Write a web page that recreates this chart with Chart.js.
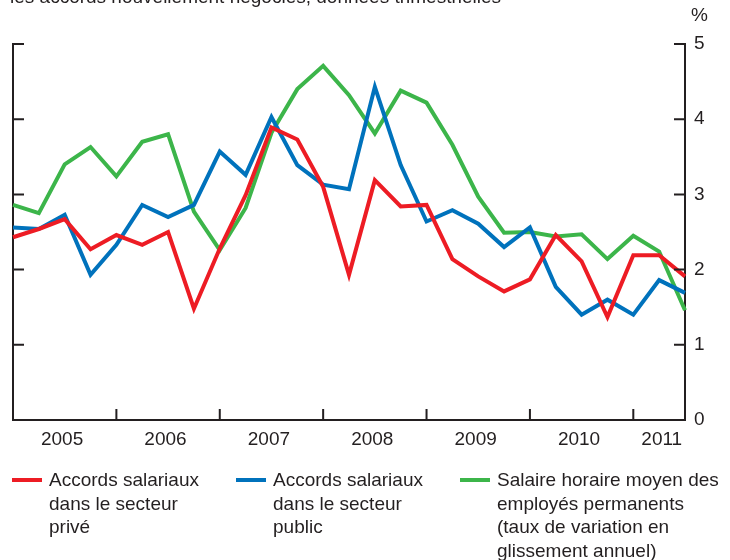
<!DOCTYPE html>
<html lang="fr">
<head>
<meta charset="utf-8">
<script src="https://cdn.jsdelivr.net/npm/chart.js@4/dist/chart.umd.min.js"></script>
<style>
  html, body { margin: 0; padding: 0; background: #fff; }
  body { width: 730px; height: 560px; position: relative; overflow: hidden;
         font-family: "Liberation Sans", Arial, sans-serif; color: #231f20; }
  #chart { position: absolute; left: 0; top: 0; }
  .note { position: absolute; font-size: 19px; line-height: 22px; white-space: nowrap; }
  .legend-item { position: absolute; top: 468px; font-size: 19px; line-height: 23.5px; }
  .legend-item .swatch { position: absolute; top: 10px; height: 4px; width: 30px; }
</style>
</head>
<body>
<canvas id="chart" width="730" height="560"></canvas>
<div class="note" style="left:10px; top:-14px;">les accords nouvellement négociés, données trimestrielles</div>
<div class="note" style="left:691px; top:4px;">%</div>
<div id="legend"></div>

<script>
// ================================
//   DONNEES (trimestrielles 2005T1 - 2011T3)
// ================================
const quarters = [
  "2005T1","2005T2","2005T3","2005T4",
  "2006T1","2006T2","2006T3","2006T4",
  "2007T1","2007T2","2007T3","2007T4",
  "2008T1","2008T2","2008T3","2008T4",
  "2009T1","2009T2","2009T3","2009T4",
  "2010T1","2010T2","2010T3","2010T4",
  "2011T1","2011T2","2011T3"
];

const accordsPrive = [
  2.43, 2.54, 2.67, 2.27, 2.46, 2.33, 2.50, 1.48,
  2.28, 2.99, 3.89, 3.73, 3.10, 1.93, 3.19, 2.84,
  2.86, 2.14, 1.91, 1.71, 1.87, 2.46, 2.11, 1.37,
  2.19, 2.19, 1.91
];

const accordsPublic = [
  2.56, 2.54, 2.73, 1.93, 2.33, 2.86, 2.70, 2.86,
  3.57, 3.26, 4.03, 3.39, 3.13, 3.07, 4.43, 3.39,
  2.64, 2.79, 2.61, 2.30, 2.56, 1.77, 1.40, 1.60,
  1.40, 1.86, 1.69
];

const salaireHoraire = [
  2.86, 2.75, 3.40, 3.63, 3.24, 3.70, 3.80, 2.77,
  2.26, 2.82, 3.82, 4.40, 4.71, 4.32, 3.81, 4.38,
  4.22, 3.66, 2.97, 2.49, 2.50, 2.44, 2.47, 2.14,
  2.45, 2.24, 1.46
];

// etichette degli anni e posizioni (in trimestri)
const yearLabels = ["2005", "2006", "2007", "2008", "2009", "2010", "2011"];
const yearLabelPos = [1.9, 5.9, 9.9, 13.9, 17.9, 21.9, 25.1];
const yearEdges = [4, 8, 12, 16, 20, 24];
const yTicks = [0, 1, 2, 3, 4, 5];

const legendLabels = [
  ["Accords salariaux", "dans le secteur", "privé"],
  ["Accords salariaux", "dans le secteur", "public"],
  ["Salaire horaire moyen des", "employés permanents", "(taux de variation en", "glissement annuel)"]
];

// ================================
//   STILE
// ================================
const INK = "#231f20";
const colors = ["#ed1c24", "#0072bc", "#3cb54a"];
const legendLeft = [12, 236, 460];

const toXY = arr => arr.map((v, i) => ({ x: i, y: v }));

// tacche interne degli assi
const axisTicks = {
  id: "axisTicks",
  afterDraw(chart) {
    const { ctx, chartArea: a, scales: { x, y } } = chart;
    ctx.save();
    ctx.strokeStyle = INK;
    ctx.lineWidth = 2;
    ctx.beginPath();
    yearEdges.forEach(v => {
      const px = x.getPixelForValue(v);
      ctx.moveTo(px, a.bottom);
      ctx.lineTo(px, a.bottom - 11);
    });
    yTicks.slice(1).forEach(v => {
      const py = y.getPixelForValue(v);
      ctx.moveTo(a.left, py);
      ctx.lineTo(a.left + 11, py);
      ctx.moveTo(a.right, py);
      ctx.lineTo(a.right - 11, py);
    });
    ctx.stroke();
    ctx.restore();
  }
};

const series = [accordsPrive, accordsPublic, salaireHoraire];

new Chart(document.getElementById("chart"), {
  type: "line",
  data: {
    labels: quarters,
    datasets: series.map((s, i) => ({
      label: legendLabels[i].join(" "),
      data: toXY(s),
      borderColor: colors[i],
      backgroundColor: colors[i],
      borderWidth: 4,
      pointRadius: 0,
      tension: 0,
      fill: false,
      clip: false
    }))
  },
  options: {
    responsive: false,
    animation: false,
    devicePixelRatio: 1,
    layout: { padding: { top: 44, left: 0, right: 0, bottom: 0 } },
    plugins: { legend: { display: false }, tooltip: { enabled: false } },
    scales: {
      x: {
        type: "linear",
        min: 0,
        max: quarters.length - 1,
        afterBuildTicks: s => { s.ticks = yearLabelPos.map(v => ({ value: v })); },
        afterFit: s => { s.height = 140; },
        grid: { display: true, drawOnChartArea: false, drawTicks: false },
        border: { display: true, color: INK, width: 2 },
        ticks: {
          autoSkip: false,
          maxRotation: 0,
          padding: 8,
          color: INK,
          font: { family: "Liberation Sans", size: 19 },
          callback: (v, i) => yearLabels[i]
        }
      },
      y: {
        position: "left",
        min: 0,
        max: 5,
        afterFit: s => { s.width = 13; },
        grid: { display: true, drawOnChartArea: false, drawTicks: false },
        border: { display: true, color: INK, width: 2 },
        ticks: { display: false, stepSize: 1 }
      },
      y2: {
        position: "right",
        min: 0,
        max: 5,
        afterFit: s => { s.width = 45; },
        grid: { display: true, drawOnChartArea: false, drawTicks: false },
        border: { display: true, color: INK, width: 2 },
        ticks: {
          stepSize: 1,
          padding: 9,
          color: INK,
          font: { family: "Liberation Sans", size: 19 }
        }
      }
    }
  },
  plugins: [axisTicks]
});

// ================================
//   LEGENDA HTML
// ================================
const legend = document.getElementById("legend");
legendLabels.forEach((lines, i) => {
  const item = document.createElement("div");
  item.className = "legend-item";
  item.style.left = legendLeft[i] + "px";
  item.innerHTML = `<span class="swatch" style="left:0; background:${colors[i]};"></span>
    <div style="margin-left:37px;">${lines.join("<br>")}</div>`;
  legend.appendChild(item);
});
</script>
</body>
</html>
